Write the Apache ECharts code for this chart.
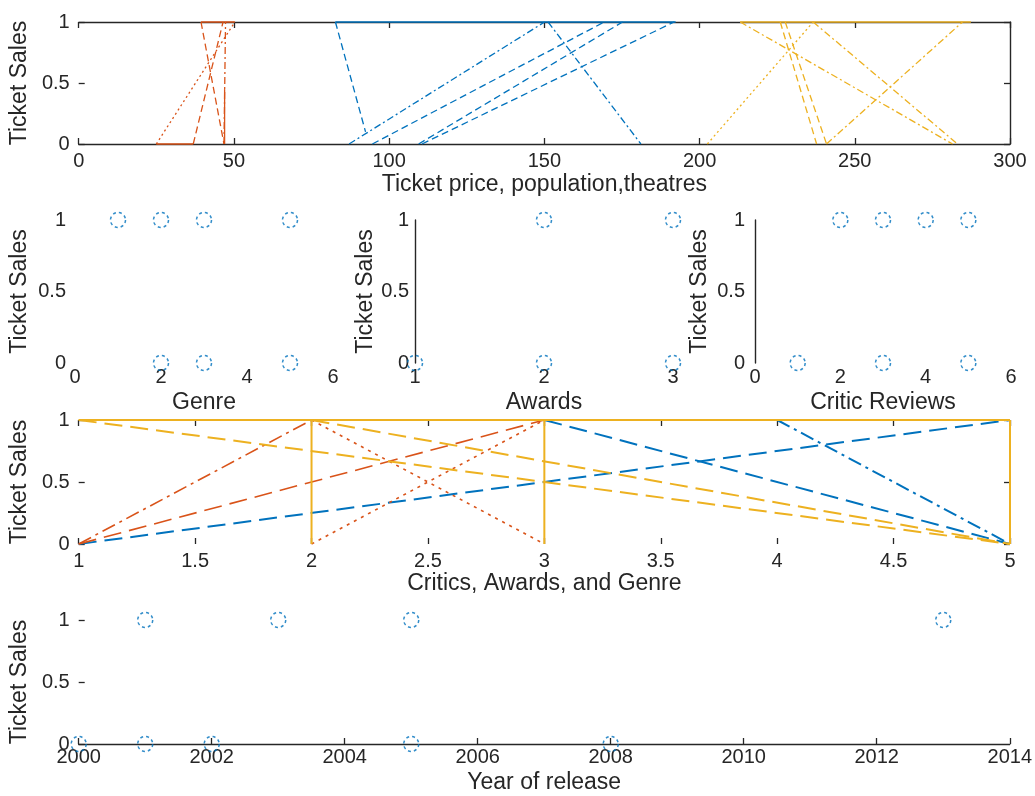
<!DOCTYPE html>
<html>
<head>
<meta charset="utf-8">
<title>Ticket Sales</title>
<script src="https://cdn.jsdelivr.net/npm/echarts@6/dist/echarts.min.js"></script>
<style>
  html, body { margin: 0; padding: 0; background: #fff; }
  #chart { width: 1035px; height: 796px; }
</style>
</head>
<body>
<div id="chart"></div>
<script>
// --- data ---
// each line segment is [x0, y0, x1, y1]; dash codes are matlab line specs
const priceOrange = [[25, 0, 36.9, 0], [39.4, 1, 50.3, 1], [25, 0, 50.3, 1], [36.9, 0, 46.5, 1],
                     [39.4, 1, 46.8, 0], [46.8, 0, 47.3, 1], [47, 0, 47, 0.45]];
const priceOrangeDash = ['-', '-', ':', '--', '--', '-.', '-'];
const priceBlue = [[82.7, 1, 192.3, 1], [82.7, 1, 92.4, 0.1], [87.1, 0, 150.1, 1], [94.6, 0, 169.3, 1],
                   [109.5, 0, 175.2, 1], [110.6, 0, 191.8, 1], [151.2, 1, 181.1, 0]];
const priceBlueDash = ['-', '--', '-.', '--', '--', '--', '-.'];
const priceYellow = [[213.1, 1, 287.4, 1], [202.5, 0, 236.6, 1], [213.1, 1, 281.5, 0], [226, 1, 237.7, 0],
                     [227.6, 1, 240.9, 0], [236.6, 1, 283.1, 0], [240.9, 0, 284.7, 1]];
const priceYellowDash = ['-', ':', '-.', '--', '--', '-.', '-.'];

const genreX = [1, 2, 3, 5, 2, 3, 5];
const genreY = [1, 1, 1, 1, 0, 0, 0];
const awardsX = [1, 2, 2, 3, 3];
const awardsY = [0, 1, 0, 1, 0];
const reviewsX = [2, 3, 4, 5, 1, 3, 5];
const reviewsY = [1, 1, 1, 1, 0, 0, 0];

const mixBlue = [[1, 0, 5, 1], [3, 1, 5, 0], [4, 1, 5, 0]];
const mixBlueDash = ['--', '--', '-.'];
const mixOrange = [[1, 0, 2, 1], [1, 0, 3, 1], [2, 1, 3, 0], [2, 0, 3, 1]];
const mixOrangeDash = ['-.', '--', ':', ':'];
const mixYellow = [[1, 1, 5, 1], [5, 1, 5, 0], [2, 1, 2, 0], [3, 1, 3, 0], [1, 1, 5, 0], [2, 1, 5, 0]];
const mixYellowDash = ['-', '-', '-', '-', '--', '--'];

const yearX = [2001, 2003, 2005, 2013, 2000, 2001, 2002, 2005, 2008];
const yearY = [1, 1, 1, 1, 0, 0, 0, 0, 0];

// axis ranges: [min, max, interval]
const salesRange = [0, 1, 0.5];
const priceRange = [0, 300, 50];
const genreRange = [0, 6, 2];
const awardsRange = [1, 3, 1];
const reviewsRange = [0, 6, 2];
const mixRange = [1, 5, 0.5];
const yearRange = [2000, 2014, 2];

const Y_NAME = 'Ticket Sales';

// --- style ---
const BLUE = '#0072BD', ORANGE = '#D95319', YELLOW = '#EDB120';
const INK = '#262626';
const FONT = 'Liberation Sans';
const DASH_THIN = { '-': 'solid', '--': [7, 4], ':': [2, 3], '-.': [7, 3, 2, 3] };
const DASH_THICK = { '-': 'solid', '--': [18, 8], ':': [3, 5], '-.': [14, 5, 3, 5] };

function axis(grid, range, o) {
  return {
    type: 'value', gridIndex: grid, position: o.position,
    min: range[0], max: range[1], interval: range[2],
    name: o.name || '', nameLocation: 'middle', nameGap: o.nameGap || 0,
    nameTextStyle: { fontSize: 23, color: INK, fontFamily: FONT },
    axisLine: { show: !!o.line, onZero: false, lineStyle: { color: INK, width: 1.4 } },
    axisTick: { show: !!o.tick, inside: true, length: 6, lineStyle: { color: INK, width: 1.3 } },
    axisLabel: {
      show: o.label !== false, fontSize: 20, color: INK, fontFamily: FONT, margin: o.margin || 8,
      formatter: function (v) { return String(v); }
    },
    splitLine: { show: false }
  };
}

function segs(list, dashes, color, width, table, xi, yi) {
  return list.map(function (s, i) {
    return {
      type: 'line', xAxisIndex: xi, yAxisIndex: yi, clip: false, silent: true,
      data: [[s[0], s[1]], [s[2], s[3]]], symbol: 'none',
      lineStyle: { color: color, width: width, type: table[dashes[i]] }
    };
  });
}

function dots(xs, ys, xi, yi) {
  return {
    type: 'scatter', xAxisIndex: xi, yAxisIndex: yi, clip: false, silent: true,
    data: xs.map(function (x, i) { return [x, ys[i]]; }),
    symbol: 'circle', symbolSize: 15,
    itemStyle: { color: 'rgba(0,0,0,0)', borderColor: BLUE, borderWidth: 1.5, borderType: [3, 3] }
  };
}

const xAxes = [
  axis(0, priceRange, { name: 'Ticket price, population,theatres', nameGap: 29, line: true, tick: true, margin: 7 }),
  axis(1, genreRange, { name: 'Genre', nameGap: 28, margin: 4 }),
  axis(2, awardsRange, { name: 'Awards', nameGap: 28, margin: 4 }),
  axis(3, reviewsRange, { name: 'Critic Reviews', nameGap: 28, margin: 4 }),
  axis(4, mixRange, { name: 'Critics, Awards, and Genre', nameGap: 26, tick: true, margin: 7 }),
  axis(5, yearRange, { name: 'Year of release', nameGap: 27, line: true, tick: true, margin: 3 }),
  // box edges
  axis(0, priceRange, { position: 'top', line: true, tick: true, label: false }),
  axis(4, mixRange, { position: 'top', tick: true, label: false })
];

const yAxes = [
  axis(0, salesRange, { name: Y_NAME, nameGap: 44, tick: true, margin: 9 }),
  axis(1, salesRange, { name: Y_NAME, nameGap: 44, margin: 9 }),
  axis(2, salesRange, { name: Y_NAME, nameGap: 38, line: true, margin: 6 }),
  axis(3, salesRange, { name: Y_NAME, nameGap: 44, line: true, margin: 10 }),
  axis(4, salesRange, { name: Y_NAME, nameGap: 44, tick: true, margin: 9 }),
  axis(5, salesRange, { name: Y_NAME, nameGap: 44, tick: true, margin: 9 }),
  axis(0, salesRange, { position: 'right', line: true, tick: true, label: false }),
  axis(4, salesRange, { position: 'right', tick: true, label: false })
];

const series = [].concat(
  segs(priceBlue, priceBlueDash, BLUE, 1.3, DASH_THIN, 0, 0),
  segs(priceOrange, priceOrangeDash, ORANGE, 1.3, DASH_THIN, 0, 0),
  segs(priceYellow, priceYellowDash, YELLOW, 1.3, DASH_THIN, 0, 0),
  [dots(genreX, genreY, 1, 1), dots(awardsX, awardsY, 2, 2), dots(reviewsX, reviewsY, 3, 3)],
  segs(mixBlue, mixBlueDash, BLUE, 2, DASH_THICK, 4, 4),
  segs(mixOrange, mixOrangeDash, ORANGE, 1.6, DASH_THICK, 4, 4),
  segs(mixYellow, mixYellowDash, YELLOW, 2, DASH_THICK, 4, 4),
  [dots(yearX, yearY, 5, 5)]
);

const chart = echarts.init(document.getElementById('chart'), null, { renderer: 'canvas' });
chart.setOption({
  animation: false,
  backgroundColor: '#fff',
  textStyle: { fontFamily: FONT },
  grid: [
    { left: 75, right: 25, top: 22, height: 122 },
    { left: 75, width: 258, top: 220, height: 143 },
    { left: 415, width: 258, top: 220, height: 143 },
    { left: 755, width: 256, top: 220, height: 143 },
    { left: 75, right: 25, top: 420, height: 124 },
    { left: 75, right: 25, top: 620, height: 124 }
  ],
  xAxis: xAxes,
  yAxis: yAxes,
  series: series
});
</script>
</body>
</html>
